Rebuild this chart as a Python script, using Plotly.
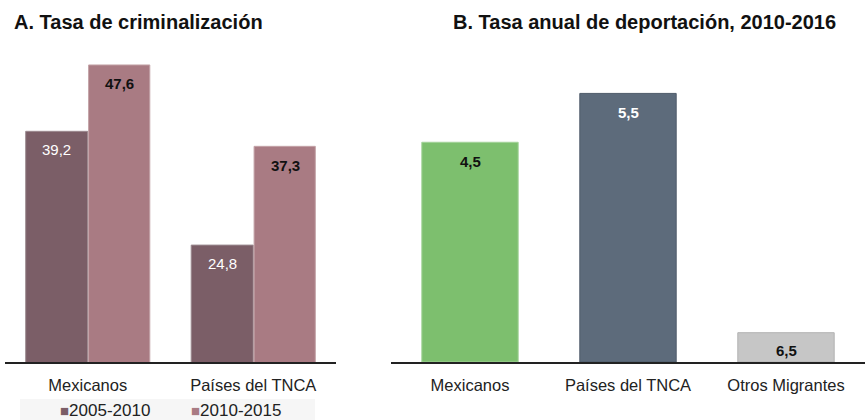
"""Two-panel bar chart: criminalization rate and annual deportation rate."""

import plotly.graph_objects as go

# --- data ---
crim_categories = ["Mexicanos", "Países del TNCA"]
crim_2005_2010 = [39.2, 24.8]
crim_2010_2015 = [47.6, 37.3]
crim_series_names = ["2005-2010", "2010-2015"]

dep_categories = ["Mexicanos", "Países del TNCA", "Otros Migrantes"]
dep_values = [4.5, 5.5, 0.6]  # bar heights as drawn
dep_labels = ["4,5", "5,5", "6,5"]  # labels as printed in the source

FONT = "Liberation Sans, Arial, sans-serif"
COL_A1 = "#7b5e67"
COL_A2 = "#a97b83"
COL_B = ["#7dbf6e", "#5d6b7b", "#c6c6c6"]
COL_B_LINE = ["#a4d39a", "#4f5c6a", "#b2b2b2"]
W, H = 868, 420


def fmt(v):
    return f"{v:.1f}".replace(".", ",")


fig = go.Figure()

# Panel A: grouped bars via explicit offsets
fig.add_trace(
    go.Bar(
        x=crim_categories,
        y=crim_2005_2010,
        name=crim_series_names[0],
        offset=-0.375,
        width=0.375,
        marker=dict(color=COL_A1, line=dict(color="#9c8a90", width=1)),
        xaxis="x",
        yaxis="y",
        hoverinfo="skip",
    )
)
fig.add_trace(
    go.Bar(
        x=crim_categories,
        y=crim_2010_2015,
        name=crim_series_names[1],
        offset=0.005,
        width=0.37,
        marker=dict(color=COL_A2, line=dict(color="#c4a3a8", width=1)),
        xaxis="x",
        yaxis="y",
        hoverinfo="skip",
    )
)

# Panel B
fig.add_trace(
    go.Bar(
        x=dep_categories,
        y=dep_values,
        width=0.61,
        marker=dict(color=COL_B, line=dict(color=COL_B_LINE, width=1)),
        xaxis="x2",
        yaxis="y2",
        hoverinfo="skip",
    )
)

annotations = []
# value labels panel A
for cat, v in zip(crim_categories, crim_2005_2010):
    annotations.append(dict(
        x=cat, y=v, xref="x", yref="y", text=fmt(v), showarrow=False,
        xshift=-31, yshift=-18, yanchor="middle",
        font=dict(family=FONT, size=15, color="white"),
    ))
for cat, v in zip(crim_categories, crim_2010_2015):
    annotations.append(dict(
        x=cat, y=v, xref="x", yref="y", text=f"<b>{fmt(v)}</b>", showarrow=False,
        xshift=32, yshift=-19, yanchor="middle",
        font=dict(family=FONT, size=15, color="#111111"),
    ))
# value labels panel B
label_colors = ["#111111", "white", "#111111"]
for cat, v, lab, c in zip(dep_categories, dep_values, dep_labels, label_colors):
    annotations.append(dict(
        x=cat, y=v, xref="x2", yref="y2", text=f"<b>{lab}</b>", showarrow=False,
        yshift=-19 if v > 1 else -18, yanchor="middle",
        font=dict(family=FONT, size=15, color=c),
    ))
# titles
annotations.append(dict(
    x=12 / W, y=1 - 22 / H, xref="paper", yref="paper", xanchor="left", yanchor="middle",
    text="<b>A. Tasa de criminalización</b>", showarrow=False,
    font=dict(family=FONT, size=20, color="#111111"),
))
annotations.append(dict(
    x=644 / W, y=1 - 22 / H, xref="paper", yref="paper", xanchor="center", yanchor="middle",
    text="<b>B. Tasa anual de deportación, 2010-2016</b>", showarrow=False,
    font=dict(family=FONT, size=20, color="#111111"),
))
# legend drawn as text entries
legend_x = [58, 189]
for name, col, lx in zip(crim_series_names, [COL_A1, COL_A2], legend_x):
    annotations.append(dict(
        x=lx / W, y=10 / H, xref="paper", yref="paper", xanchor="left", yanchor="middle",
        text=f"<span style='color:{col};font-size:15px'>■</span>{name}", showarrow=False,
        font=dict(family=FONT, size=17, color="#222222"),
    ))

y_bottom = (H - 362) / H

axis_common = dict(
    showgrid=False,
    zeroline=False,
    showline=True,
    linecolor="#222222",
    linewidth=1.5,
    ticks="",
    ticklabelstandoff=7,
    automargin=False,
    tickfont=dict(family=FONT, size=16.5, color="#222222"),
    fixedrange=True,
)

fig.update_layout(
    width=W,
    height=H,
    margin=dict(l=0, r=0, t=0, b=0, autoexpand=False),
    paper_bgcolor="white",
    plot_bgcolor="white",
    font=dict(family=FONT, size=14, color="#222222"),
    barmode="overlay",
    showlegend=False,
    xaxis=dict(domain=[5 / W, 336 / W], range=[-0.5, 1.5], anchor="y", **axis_common),
    yaxis=dict(domain=[y_bottom, (H - 46) / H], range=[10, 50], visible=False, fixedrange=True),
    xaxis2=dict(domain=[391 / W, 865 / W], range=[-0.5, 2.5], anchor="y2", **axis_common),
    yaxis2=dict(domain=[y_bottom, (H - 69) / H], range=[0, 6], visible=False, fixedrange=True),
    annotations=annotations,
    shapes=[dict(
        type="rect", xref="paper", yref="paper", layer="below",
        x0=20 / W, x1=315 / W, y0=0, y1=21 / H,
        fillcolor="#f6f6f6", line=dict(width=0),
    )],
)

# remove the default page margin so the figure sits at the window origin
fig.write_html(
    "out.html",
    config={"displayModeBar": False},
    post_script="document.body.style.margin='0';",
)
